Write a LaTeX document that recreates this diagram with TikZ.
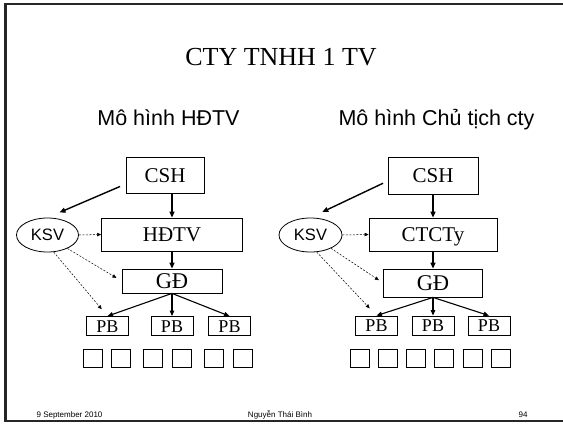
\documentclass[tikz,border=0pt]{standalone}
\usepackage{fontspec}
\setmainfont{Liberation Serif}
\newfontfamily\arialfont{Liberation Sans}
\usetikzlibrary{arrows.meta,shapes.geometric}

\tikzset{
  box/.style={draw, line width=0.8pt, inner sep=0pt, text height=14pt, text depth=0pt, font=\fontsize{21}{21}\selectfont},
  gdbox/.style={box, text height=15pt, font=\fontsize{22.5}{22.5}\selectfont},
  pbbox/.style={draw, line width=0.8pt, inner sep=0pt, minimum width=42pt, minimum height=19pt, text height=12pt, text depth=0pt, font=\fontsize{18}{18}\selectfont},
  unitbox/.style={draw, line width=0.8pt, inner sep=0pt, minimum width=19pt, minimum height=18pt},
  ksv/.style={draw, ellipse, line width=0.8pt, inner sep=0pt, minimum width=62pt, minimum height=34pt, text height=11.5pt, text depth=0pt, font=\arialfont\fontsize{16.5}{16.5}\selectfont},
  main/.style={line width=1.4pt, -{Triangle[length=6pt,width=5pt]}},
  sub/.style={line width=1.1pt, -{Triangle[length=5.5pt,width=4.5pt]}},
  watch/.style={line width=0.5pt, dash pattern=on 2pt off 1.5pt, -{Triangle[length=4pt,width=3.5pt]}}
}

\begin{document}
\begin{tikzpicture}[x=1pt,y=-1pt]

	\useasboundingbox (0,0) rectangle (563,424);
	\draw[line width=2.2pt, black!85] (563,4) -- (5.5,4) -- (5.5,421) -- (563,421);

	% Titles
	\node[anchor=base, font=\fontsize{26}{26}\selectfont] (title) at (281,65) {CTY TNHH 1 TV};
	\node[anchor=base, font=\arialfont\fontsize{21.5}{21.5}\selectfont] (headA) at (168.5,125) {Mô hình HĐTV};
	\node[anchor=base, font=\arialfont\fontsize{21.5}{21.5}\selectfont] (headB) at (436.5,125) {Mô hình Chủ tịch cty};

	% Model 1: HDTV
	\node[box, minimum width=78pt, minimum height=36pt] (cshA) at (165,175) {CSH};
	\node[box, minimum width=141pt, minimum height=33pt] (hdtv) at (172,234.5) {HĐTV};
	\node[gdbox, minimum width=100pt, minimum height=24pt] (gdA) at (172,281) {GĐ};
	\node[ksv] (ksvA) at (47.5,235) {KSV};
	\node[pbbox] (pbA1) at (107.5,326) {PB};
	\node[pbbox] (pbA2) at (172,326) {PB};
	\node[pbbox] (pbA3) at (229.5,326) {PB};
	\node[unitbox] (uA1) at (92.5,358) {};
	\node[unitbox] (uA2) at (121,358) {};
	\node[unitbox] (uA3) at (153,358) {};
	\node[unitbox] (uA4) at (181.5,358) {};
	\node[unitbox] (uA5) at (214,358) {};
	\node[unitbox] (uA6) at (242.5,358) {};

	\draw[main] (hdtv.north |- cshA.south) -- (hdtv.north);
	\draw[main] (hdtv.south) -- (gdA.north);
	\draw[main, shorten <=6pt, shorten >=13pt] (cshA.193) -- (ksvA.north);
	\draw[sub] (gdA.south) -- (pbA1.north);
	\draw[sub] (gdA.south) -- (pbA2.north);
	\draw[sub] (gdA.south) -- (pbA3.north);
	\draw[watch] (ksvA.east) -- (hdtv.west);
	\draw[watch, shorten >=6pt] (ksvA.-34) -- (gdA.west);
	\draw[watch, shorten >=9pt] (ksvA.-70) -- (pbA1.north);

	% Model 2: Chu tich cty
	\node[box, minimum width=90pt, minimum height=37pt] (cshB) at (433,175.5) {CSH};
	\node[box, minimum width=128pt, minimum height=33pt] (ctcty) at (433,234.5) {CTCTy};
	\node[gdbox, minimum width=99pt, minimum height=28pt] (gdB) at (433,283) {GĐ};
	\node[ksv, minimum width=63pt] (ksvB) at (310.5,235) {KSV};
	\node[pbbox] (pbB1) at (376.5,325.5) {PB};
	\node[pbbox] (pbB2) at (433,325.5) {PB};
	\node[pbbox] (pbB3) at (489,325.5) {PB};
	\node[unitbox] (uB1) at (359.5,358) {};
	\node[unitbox] (uB2) at (387.5,358) {};
	\node[unitbox] (uB3) at (415.5,358) {};
	\node[unitbox] (uB4) at (443.5,358) {};
	\node[unitbox] (uB5) at (472.5,358) {};
	\node[unitbox] (uB6) at (500.5,358) {};

	\draw[main] (cshB.south) -- (ctcty.north);
	\draw[main] (ctcty.south) -- (gdB.north);
	\draw[main, shorten <=5pt, shorten >=13pt] (cshB.187) -- (ksvB.north);
	\draw[sub] (gdB.south) -- (pbB1.north);
	\draw[sub] (gdB.south) -- (pbB2.north);
	\draw[sub] (gdB.south) -- (pbB3.north);
	\draw[watch] (ksvB.east) -- (ctcty.west);
	\draw[watch, shorten >=5pt] (ksvB.-33) -- (gdB.west);
	\draw[watch, shorten >=10pt] (ksvB.-70) -- (pbB1.north);

	% Footer
	\node[anchor=base, font=\arialfont\fontsize{8}{8}\selectfont] (date) at (69.5,417) {9 September 2010};
	\node[anchor=base, font=\arialfont\fontsize{8}{8}\selectfont] (author) at (280,417) {Nguyễn Thái Bình};
	\node[anchor=base, font=\arialfont\fontsize{8}{8}\selectfont] (page) at (523,417) {94};

\end{tikzpicture}
\end{document}
